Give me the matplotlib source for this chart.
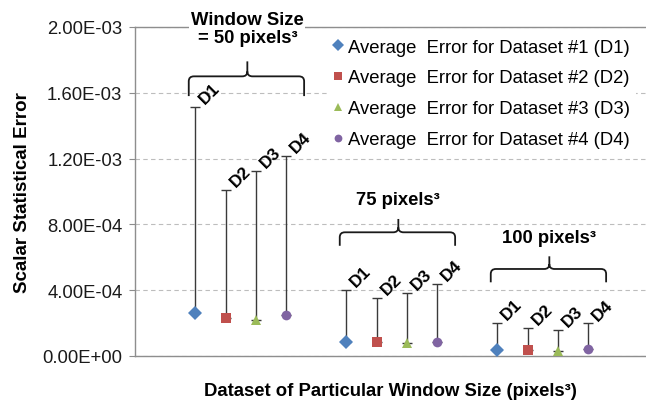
import matplotlib
matplotlib.use("Agg")
import matplotlib.pyplot as plt
from matplotlib.path import Path
from matplotlib.patches import PathPatch
from matplotlib.ticker import FuncFormatter, MultipleLocator

plt.rcParams['font.family'] = ['Liberation Sans', 'DejaVu Sans']

# ---- data ----
window_sizes = ["50", "75", "100"]
datasets = ["D1", "D2", "D3", "D4"]
legend_labels = [
    "Average  Error for Dataset #1 (D1)",
    "Average  Error for Dataset #2 (D2)",
    "Average  Error for Dataset #3 (D3)",
    "Average  Error for Dataset #4 (D4)",
]
# average error (marker) for each window size 50, 75, 100
d1_avg = [2.61e-4, 8.3e-5, 3.6e-5]
d2_avg = [2.29e-4, 8.3e-5, 3.4e-5]
d3_avg = [2.20e-4, 8.0e-5, 3.2e-5]
d4_avg = [2.49e-4, 8.5e-5, 4.0e-5]
# upper end of the error bar for each window size
d1_upper = [1.515e-3, 4.01e-4, 2.00e-4]
d2_upper = [1.009e-3, 3.54e-4, 1.72e-4]
d3_upper = [1.125e-3, 3.83e-4, 1.58e-4]
d4_upper = [1.216e-3, 4.40e-4, 1.98e-4]
group_labels = ["Window Size\n= 50 pixels\u00b3", "75 pixels\u00b3", "100 pixels\u00b3"]

avgs = [d1_avg, d2_avg, d3_avg, d4_avg]
uppers = [d1_upper, d2_upper, d3_upper, d4_upper]

# ---- style ----
colors = ["#4F81BD", "#C0504D", "#9BBB59", "#8064A2"]
markers = ["D", "s", "^", "o"]
msizes = [7.5, 6.5, 7.5, 7]
W, H = 646, 402
fig = plt.figure(figsize=(W / 100, H / 100), dpi=100)
ax = fig.add_axes([135 / W, 45 / H, (W - 135) / W, 329 / H])

slot = 30.2  # px per category slot
ax.set_xlim(-2.0, -2.0 + (W - 135) / slot)
ax.set_ylim(0, 2.0e-3)
ax.yaxis.set_major_locator(MultipleLocator(4.0e-4))
ax.yaxis.set_major_formatter(FuncFormatter(lambda v, p: f"{v:.2E}"))
ax.set_xticks([])
ax.tick_params(axis='y', length=4, width=0.8, color='#8C8C8C', pad=5,
               labelsize=13.3, labelcolor='#1a1a1a')
for s in ['left', 'bottom', 'top']:
    ax.spines[s].set_color('#8E8E8E')
    ax.spines[s].set_linewidth(1.0)
ax.spines['right'].set_visible(False)
ax.grid(axis='y', color='#BDBDBD', linestyle=(0, (4, 3)), linewidth=0.8)
ax.set_axisbelow(True)

ax.set_ylabel("Scalar Statistical Error", fontsize=13.5, fontweight='bold', labelpad=8)
ax.set_xlabel("Dataset of Particular Window Size (pixels\u00b3)", fontsize=13.3,
              fontweight='bold', labelpad=19)

handles = []
for di in range(4):
    xs = [g * 5 + di for g in range(3)]
    ys = avgs[di]
    up = [u - v for u, v in zip(uppers[di], ys)]
    ax.errorbar(xs, ys, yerr=[[0] * 3, up], fmt='none', ecolor='#3a3a3a',
                elinewidth=1.0, capsize=3.5, capthick=1.0, zorder=3)
    h, = ax.plot(xs, ys, linestyle='none', marker=markers[di], color=colors[di],
                 markersize=msizes[di], markeredgewidth=0, zorder=4,
                 label=legend_labels[di])
    handles.append(h)
    for x, u in zip(xs, uppers[di]):
        ax.annotate(datasets[di], (x, u), xytext=(1, 0.5), textcoords='offset points',
                    rotation=45, ha='left', va='bottom', fontsize=12.5,
                    fontweight='bold', zorder=5)

# ---- group braces ----
brace_bar = [1.70e-3, 7.52e-4, 5.29e-4]
brace_drop = [1.2e-4, 8.2e-5, 8.1e-5]
brace_tip = [9.1e-5, 8.1e-5, 7.7e-5]
label_y = [1.99e-3, 9.54e-4, 7.20e-4]
rx, ry = 0.17, 3.0e-5
for g in range(3):
    xl = g * 5 - 0.22
    xr = g * 5 + 3.6
    xm = g * 5 + 1.72
    yb = brace_bar[g]
    ye = yb - brace_drop[g]
    yt = yb + brace_tip[g]
    verts = [(xl, ye), (xl, yb - ry), (xl, yb), (xl + rx, yb), (xm - rx, yb),
             (xm, yb), (xm, yb + ry), (xm, yt),
             (xm, yb + ry), (xm, yb), (xm + rx, yb), (xr - rx, yb),
             (xr, yb), (xr, yb - ry), (xr, ye)]
    codes = [Path.MOVETO, Path.LINETO, Path.CURVE3, Path.CURVE3, Path.LINETO,
             Path.CURVE3, Path.CURVE3, Path.LINETO,
             Path.MOVETO, Path.CURVE3, Path.CURVE3, Path.LINETO,
             Path.CURVE3, Path.CURVE3, Path.LINETO]
    ax.add_patch(PathPatch(Path(verts, codes), fill=False, edgecolor='#1a1a1a',
                           linewidth=1.3, zorder=5, clip_on=False))
    ax.text(xm, label_y[g], group_labels[g], ha='center', va='center',
            fontsize=13.3, fontweight='bold', linespacing=1.1, zorder=6,
            clip_on=False,
            bbox=dict(facecolor='white', edgecolor='none', pad=1))

leg = fig.legend(handles=handles, loc='upper left',
                 bbox_to_anchor=(327 / W, 1 - 34 / H), frameon=True,
                 fontsize=13.3, handlelength=0.6, handletextpad=0.25,
                 labelspacing=0.75, borderpad=0.3, markerscale=0.8,
                 borderaxespad=0)
leg.get_frame().set_facecolor('white')
leg.get_frame().set_edgecolor('none')
leg.get_frame().set_alpha(1)

fig.savefig("out.png", dpi=100)
